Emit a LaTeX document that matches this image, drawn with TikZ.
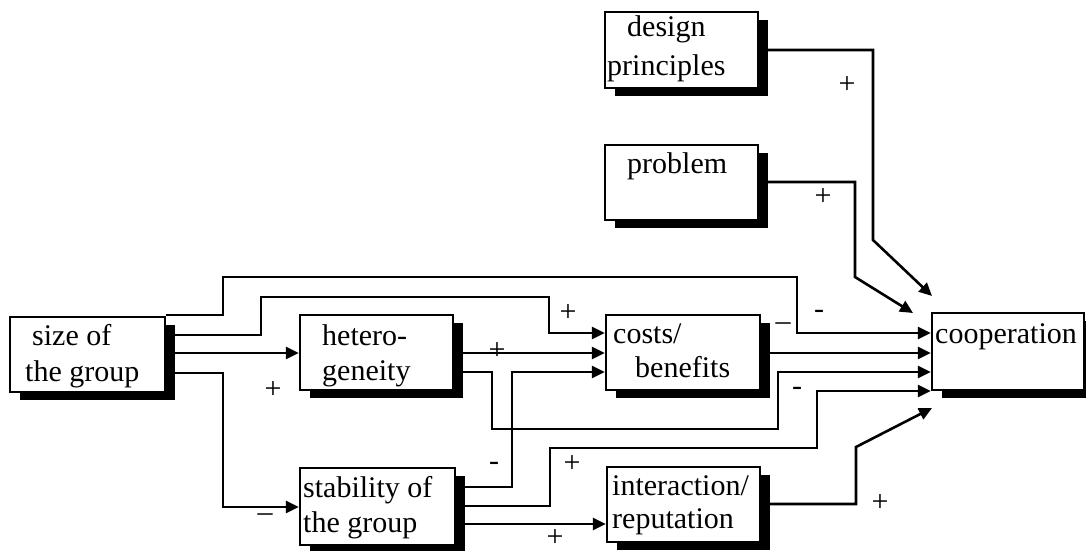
\documentclass[tikz,border=0pt]{standalone}
\usepackage{fontspec}
\setmainfont{Liberation Serif}
\usetikzlibrary{arrows.meta,shadows}
\begin{document}
\begin{tikzpicture}[x=1pt,y=-1pt,
  box/.style={draw,line width=2.4pt,fill=white,inner sep=0pt,
    drop shadow={shadow xshift=10pt,shadow yshift=-8pt,fill=black,opacity=1}},
  txt/.style={anchor=base west,inner sep=0pt,font=\fontsize{30}{36}\selectfont},
  sgn/.style={inner sep=0pt,font=\fontsize{30}{30}\selectfont},
  conn/.style={line width=2.6pt},
  arr/.style={conn,-{Triangle[length=13pt,width=12pt]}}]
\useasboundingbox (0,0) rectangle (1086,551);

% boxes
\node[box,minimum width=155pt,minimum height=75pt] (size) at (87.5,354.5) {};
\node[box,minimum width=153pt,minimum height=75pt] (het) at (376.5,352.5) {};
\node[box,minimum width=154pt,minimum height=75pt] (cost) at (683,352.5) {};
\node[box,minimum width=152pt,minimum height=77pt] (coop) at (1008,351.5) {};
\node[box,minimum width=155pt,minimum height=77pt] (stab) at (377.5,506.5) {};
\node[box,minimum width=153pt,minimum height=75pt] (inter) at (683.5,504.5) {};
\node[box,minimum width=153pt,minimum height=76pt] (design) at (681.5,50) {};
\node[box,minimum width=153pt,minimum height=75pt] (prob) at (681.5,182.5) {};

% texts
\node[txt] (size1) at (32,345) {size of};
\node[txt] (size2) at (25,381) {the group};
\node[txt] (het1) at (322,345) {hetero-};
\node[txt] (het2) at (322,380) {geneity};
\node[txt] (cost1) at (613,343) {costs/};
\node[txt] (cost2) at (635,377) {benefits};
\node[txt] (coop1) at (935,343) {cooperation};
\node[txt] (stab1) at (303,497) {stability of};
\node[txt] (stab2) at (303,532) {the group};
\node[txt] (inter1) at (612,495) {interaction/};
\node[txt] (inter2) at (612,528) {reputation};
\node[txt] (des1) at (627,37) {design};
\node[txt] (des2) at (607,75) {principles};
\node[txt] (prob1) at (627,173) {problem};

% free arrow ends
\coordinate (tipP) at (913,313);
\coordinate (tipD) at (932,296);
\coordinate (tipI) at (932,408);

% connectors
\draw[arr] (size.east |- 0,315) -- (223,315) -- (223,277) -- (797,277) -- (797,333) -- (coop.west |- 0,333);
\draw[arr] (size.east |- 0,335) -- (261,335) -- (261,297) -- (549,297) -- (549,333) -- (cost.west |- 0,333);
\draw[arr] (size.east |- 0,353) -- (het.west |- 0,353);
\draw[arr] (size.east |- 0,373) -- (223,373) -- (223,507) -- (stab.west |- 0,507);
\draw[arr] (het.east |- 0,353) -- (cost.west |- 0,353);
\draw[arr] (het.east |- 0,372) -- (492,372) -- (492,429) -- (778,429) -- (778,372) -- (coop.west |- 0,372);
\draw[arr] (stab.east |- 0,487) -- (512,487) -- (512,372) -- (cost.west |- 0,372);
\draw[arr] (stab.east |- 0,506) -- (550,506) -- (550,448) -- (817,448) -- (817,391) -- (coop.west |- 0,391);
\draw[arr] (stab.east |- 0,524) -- (inter.west |- 0,524);
\draw[arr] (cost.east |- 0,353) -- (coop.west |- 0,353);
\draw[arr] (inter.east |- 0,504) -- (856,504) -- (856,447) -- (tipI);
\draw[arr] (prob.east |- 0,182) -- (855,182) -- (855,277) -- (tipP);
\draw[arr] (design.east |- 0,50) -- (873,50) -- (873,240) -- (tipD);

% signs
\node[sgn] (s1) at (847,85) {+};
\node[sgn] (s2) at (823,197) {+};
\node[sgn] (s3) at (568,313) {+};
\node[sgn] (s4) at (497,351) {+};
\node[sgn] (s5) at (273,390) {+};
\node[sgn] (s6) at (819,314) {-};
\node[sgn] (s7) at (783,327) {–};
\node[sgn] (s8) at (797,391) {-};
\node[sgn] (s9) at (494,466) {-};
\node[sgn] (s10) at (572,464) {+};
\node[sgn] (s11) at (265,518) {–};
\node[sgn] (s12) at (555,538) {+};
\node[sgn] (s13) at (880,503) {+};
\end{tikzpicture}
\end{document}
